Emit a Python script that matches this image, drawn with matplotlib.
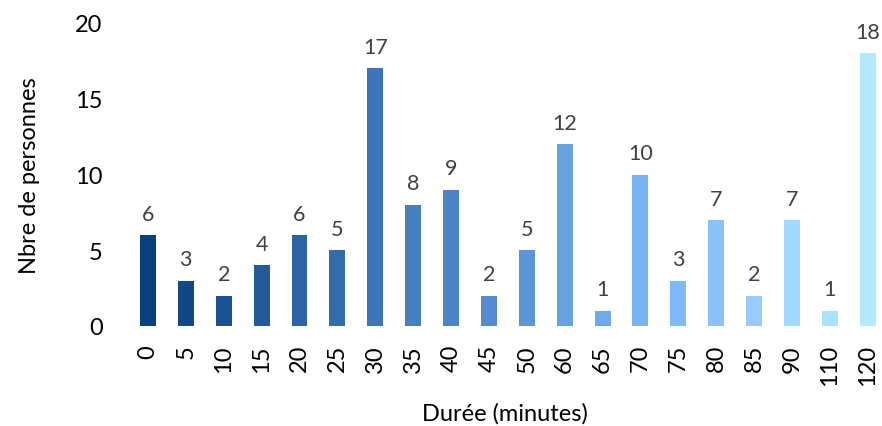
import numpy as np
import matplotlib.pyplot as plt

plt.rcParams['font.family'] = ['Lato', 'DejaVu Sans']

durees = ['0', '5', '10', '15', '20', '25', '30', '35', '40', '45',
          '50', '60', '65', '70', '75', '80', '85', '90', '110', '120']
personnes = [6, 3, 2, 4, 6, 5, 17, 8, 9, 2, 5, 12, 1, 10, 3, 7, 2, 7, 1, 18]
couleurs = ['#0b3f7f', '#12488a', '#1a4f91', '#245a9b', '#2d63a5', '#336cae',
            '#3d75b8', '#467ebf', '#4c84c6', '#548ccf', '#5d96d8', '#68a2e2',
            '#70a9e8', '#7ab3f4', '#80b9fb', '#8ac2fc', '#98ccfd', '#a3d9fe',
            '#abe2fd', '#b3ebfd']

fig = plt.figure(figsize=(8.82, 4.27), dpi=100)
ax = fig.add_axes([129 / 882, 1 - 327 / 427, 752 / 882, 303 / 427])

x = np.arange(len(durees))
bars = ax.bar(x, personnes, width=0.42, color=couleurs)

for b, v in zip(bars, personnes):
    ax.text(b.get_x() + b.get_width() / 2, v + 0.75, str(v),
            ha='center', va='bottom', fontsize=15.5, color='#404040')

ax.set_xlim(-0.5, 19.35)
ax.set_ylim(0, 20)
ax.set_yticks([0, 5, 10, 15, 20])
ax.set_xticks(x)
ax.set_xticklabels(durees, rotation=90)
ax.tick_params(axis='both', length=0, labelsize=17, colors='black')
ax.tick_params(axis='x', pad=13)
ax.tick_params(axis='y', pad=19)

for s in ax.spines.values():
    s.set_visible(False)

ax.set_ylabel('Nbre de personnes', fontsize=17, labelpad=25)
ax.set_xlabel('Durée (minutes)', fontsize=17, labelpad=12)

fig.savefig('out.png', dpi=100)
